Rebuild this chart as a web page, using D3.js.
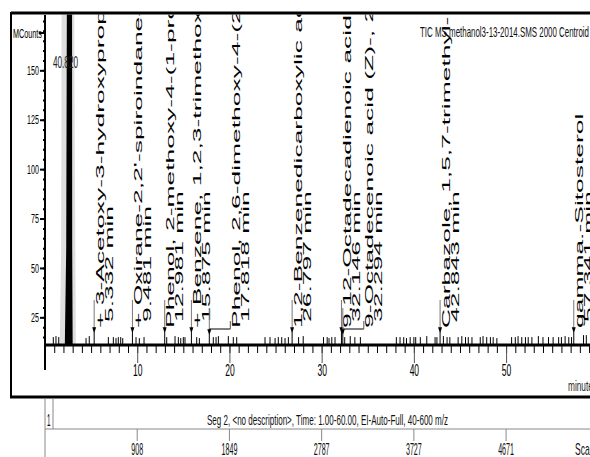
<!DOCTYPE html>
<html><head><meta charset="utf-8">
<script src="https://cdn.jsdelivr.net/npm/d3@7"></script>
<style>body{margin:0;background:#fff} svg{display:block;font-family:"Liberation Sans",Arial,sans-serif}</style>
</head><body><svg id="c" width="590" height="457"></svg>
<script>
// ---------- data ----------
const peakTimes = [5.332, 9.481, 12.981, 15.875, 17.818, 26.797, 32.146, 32.294, 42.843, 57.341];
const peakNames = [
  "+ 3-Acetoxy-3-hydroxypropionic acid, methyl ester",
  "+ Oxirane-2,2'-spiroindane-1',3'-dione",
  "Phenol, 2-methoxy-4-(1-propenyl)-",
  "+ Benzene, 1,2,3-trimethoxy-5-methyl-",
  "Phenol, 2,6-dimethoxy-4-(2-propenyl)-",
  "1,2-Benzenedicarboxylic acid, bis(2-methylpropyl) ester",
  "9,12-Octadecadienoic acid (Z,Z)-",
  "9-Octadecenoic acid (Z)-, 2,3-dihydroxypropyl ester",
  "Carbazole, 1,5,7-trimethyl-",
  "gamma.-Sitosterol"
];
const peakTimeLabels = ["5.332 min","9.481 min","12.981 min","15.875 min","17.818 min","26.797 min","32.146 min","32.294 min","42.843 min","57.341 min"];
const peakValues = [17.5, 17.5, 17.5, 17.5, 16.5, 17.5, 17.5, 16.5, 17.5, 17.5];

const grassTimes = [0.9,1.19,1.49,4.45,4.8,6.87,7.41,7.7,7.95,8.21,8.43,9.87,10.23,10.74,13.2,14.1,14.46,14.72,15.0,15.18,16.45,16.74,18.25,18.55,18.8,19.88,20.42,20.79,23.86,24.4,24.95,25.3,25.67,26.03,26.39,27.5,28.0,30.2,30.6,30.8,31.1,31.45,32.5,33.1,33.6,34.2,38.1,38.5,38.9,39.2,39.6,40.0,40.2,40.7,41.4,42.3,42.5,43.2,43.6,43.9,44.8,45.2,45.6,45.9,46.3,47.2,47.5,47.9,48.3,48.6,49.0,50.6,51.0,51.3,51.7,52.1,52.4,52.8,53.5,54.0,54.6,55.1,55.7,56.0,56.4,56.8,57.1,58.4,58.7];
const grassValues = [15,15.5,15,14.5,15.5,15,15,14.5,15,15,14.5,15,14.5,15,15,15.5,15,14.5,15,15,15,14.5,15,15,15.5,15.5,15,15,15,15,14.5,15,15,14.5,15,15,15.5,15,15,14.5,15,15,15,15.5,15,15,15,15,15,14.5,15,15,15,15,15.5,15,15,15.5,15,15,15,15.5,15,15,15,15,15.5,15,15,15,14.5,15,15,15.5,15,15,15,15,15.5,15,15,15,15,15,15.5,15,15,16,16];

const mainPeakTimes  = [2.15, 2.3, 2.38, 2.45, 2.9, 2.95, 3.0];
const mainPeakValues = [11, 60, 200, 400, 400, 60, 11];
const envTimes  = [1.6, 1.75, 1.9, 2.2, 3.0, 3.2, 3.35];
const envValues = [11, 60, 400, 400, 400, 140, 11];

const yTicks = [25, 50, 75, 100, 125, 150];
const xTicks = [10, 20, 30, 40, 50];
const scanTicks = ["908", "1849", "2787", "3727", "4671"];
const apexLabel = "40.820";
const titleText = "TIC MS methanol3-13-2014.SMS 2000 Centroid";
const segText = "Seg 2, <no description>, Time: 1.00-60.00, EI-Auto-Full, 40-600 m/z";

// ---------- scales ----------
const svg = d3.select("#c");
const x = d3.scaleLinear().domain([0, 59.1]).range([45, 590]);
const y = d3.scaleLinear().domain([11, 178]).range([345, 15]);

svg.append("defs").append("clipPath").attr("id","plot")
  .append("rect").attr("x",45).attr("y",14.5).attr("width",545).attr("height",331);

const plot = svg.append("g").attr("clip-path","url(#plot)");

const area = d3.area().x(d=>x(d[0])).y0(y(11)).y1(d=>y(d[1]));
plot.append("path").datum(envTimes.map((t,i)=>[t,envValues[i]]))
  .attr("d",area).attr("fill","#b5b5b5").attr("opacity",0.45);
plot.append("path").datum(mainPeakTimes.map((t,i)=>[t,mainPeakValues[i]]))
  .attr("d",area).attr("fill","#000");

plot.selectAll("line.grass").data(grassTimes).join("line").attr("class","grass")
  .attr("x1",d=>x(d)).attr("x2",d=>x(d)).attr("y1",y(11)).attr("y2",(d,i)=>y(grassValues[i]))
  .attr("stroke","#000").attr("stroke-width",1);

let prev = -1e9;
const lxs = peakTimes.map(t => { const m = x(t); const lx = (m - prev < 20) ? m + 21 : m; prev = lx; return lx; });

peakTimes.forEach((t,i)=>{
  const m = x(t), lx = lxs[i], py = y(peakValues[i]);
  plot.append("line").attr("x1",m).attr("x2",m).attr("y1",y(11)).attr("y2",py).attr("stroke","#000");
  if (lx === m) {
    plot.append("line").attr("x1",m).attr("x2",m).attr("y1",300).attr("y2",py).attr("stroke","#777").attr("stroke-width",1);
  } else {
    plot.append("line").attr("x1",m).attr("x2",m).attr("y1",308).attr("y2",py).attr("stroke","#777");
    plot.append("line").attr("x1",m).attr("x2",lx).attr("y1",329).attr("y2",329).attr("stroke","#000");
    plot.append("line").attr("x1",lx).attr("x2",lx).attr("y1",321).attr("y2",329).attr("stroke","#555");
  }
  plot.append("path").attr("d",`M${m-2},${py-5}L${m+2},${py-5}L${m},${py+1}Z`).attr("fill","#000");
  plot.append("text").attr("transform",`translate(${lx+9.5},328) rotate(-90) scale(2.3,1)`)
    .attr("font-size",11.5).attr("fill","#000").text(peakNames[i]);
  plot.append("text").attr("transform",`translate(${lx+18.5},322) rotate(-90) scale(2.3,1)`)
    .attr("font-size",11.5).attr("fill","#000").text(peakTimeLabels[i]);
});

plot.append("text").attr("x",53).attr("y",68).attr("font-size",17).attr("textLength",25)
  .attr("lengthAdjust","spacingAndGlyphs").attr("fill","#222").text(apexLabel);

// ---------- axes ----------
const yMinor = svg.append("g").attr("transform","translate(45,0)")
  .call(d3.axisLeft(y).tickValues(d3.range(15,180,5)).tickSize(2).tickFormat(""));
yMinor.select(".domain").remove();
yMinor.selectAll("line").attr("stroke","#000").attr("stroke-width",2);
const yAx = svg.append("g").attr("transform","translate(45,0)")
  .call(d3.axisLeft(y).tickValues(yTicks).tickSize(5).tickPadding(6));
yAx.select(".domain").remove();
yAx.selectAll("line").attr("stroke","#000").attr("stroke-width",2);
yAx.selectAll("text").attr("font-size",13).attr("font-family","Liberation Sans, Arial, sans-serif")
  .attr("x",-11).attr("transform","scale(0.55,1)").attr("fill","#000");
svg.append("line").attr("x1",45).attr("x2",45).attr("y1",15).attr("y2",370).attr("stroke","#000").attr("stroke-width",2);
svg.append("line").attr("x1",39).attr("x2",45).attr("y1",33).attr("y2",33).attr("stroke","#000").attr("stroke-width",2);
svg.append("text").attr("x",13).attr("y",38).attr("font-size",13).attr("textLength",29)
  .attr("lengthAdjust","spacingAndGlyphs").text("MCounts");

const xMinor = svg.append("g").attr("transform","translate(0,345)")
  .call(d3.axisBottom(x).tickValues(d3.range(1,60,1)).tickSize(8).tickFormat(""));
xMinor.select(".domain").remove();
xMinor.selectAll("line").attr("stroke","#000").attr("stroke-width",1);
const xAx = svg.append("g").attr("transform","translate(0,345)")
  .call(d3.axisBottom(x).tickValues(xTicks).tickSize(18).tickPadding(1));
xAx.select(".domain").remove();
xAx.selectAll("line").attr("stroke","#555").attr("stroke-width",1);
xAx.selectAll("text").attr("font-size",17).attr("font-family","Liberation Sans, Arial, sans-serif")
  .attr("transform","scale(0.5,1)").attr("fill","#000");
svg.append("line").attr("x1",45).attr("x2",590).attr("y1",345).attr("y2",345).attr("stroke","#000").attr("stroke-width",3);
svg.append("text").attr("x",568).attr("y",391).attr("font-size",15).attr("textLength",29)
  .attr("lengthAdjust","spacingAndGlyphs").attr("fill","#222").text("minutes");

svg.append("text").attr("x",420).attr("y",37).attr("font-size",15).attr("textLength",169)
  .attr("lengthAdjust","spacingAndGlyphs").attr("fill","#111").text(titleText);

svg.append("line").attr("x1",11).attr("x2",590).attr("y1",13).attr("y2",13).attr("stroke","#000").attr("stroke-width",3);
svg.append("line").attr("x1",11).attr("x2",11).attr("y1",12).attr("y2",397).attr("stroke","#000").attr("stroke-width",2);
svg.append("line").attr("x1",10).attr("x2",590).attr("y1",397).attr("y2",397).attr("stroke","#000").attr("stroke-width",3);

svg.append("line").attr("x1",45).attr("x2",45).attr("y1",398).attr("y2",457).attr("stroke","#888");
svg.append("line").attr("x1",53).attr("x2",53).attr("y1",398).attr("y2",429).attr("stroke","#888");
svg.append("line").attr("x1",45).attr("x2",590).attr("y1",429).attr("y2",429).attr("stroke","#888");
svg.append("text").attr("x",47).attr("y",426).attr("font-size",17).attr("textLength",3.5)
  .attr("lengthAdjust","spacingAndGlyphs").text("1");
svg.append("text").attr("x",207).attr("y",425).attr("font-size",14).attr("textLength",241)
  .attr("lengthAdjust","spacingAndGlyphs").attr("fill","#111").text(segText);
const sc = svg.append("g");
xTicks.forEach((t,i)=>{
  sc.append("line").attr("x1",x(t)).attr("x2",x(t)).attr("y1",429).attr("y2",441).attr("stroke","#888");
  sc.append("text").attr("transform",`translate(${x(t)},455) scale(0.42,1)`).attr("text-anchor","middle")
    .attr("font-size",17).attr("fill","#111").text(scanTicks[i]);
});
svg.append("text").attr("transform","translate(575,455) scale(0.5,1)").attr("font-size",17).attr("fill","#111").text("Scans");
</script></body></html>
